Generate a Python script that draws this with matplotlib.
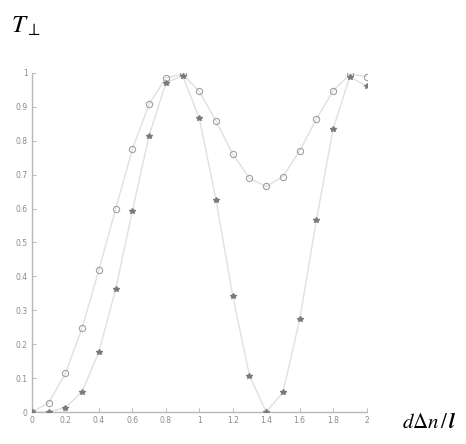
# Transmission T_perp versus d*dn/lambda, two sets of points with their curves
import numpy as np
import matplotlib.pyplot as plt

# Data
x = [0.0, 0.1, 0.2, 0.3, 0.4, 0.5, 0.6, 0.7, 0.8, 0.9, 1.0,
     1.1, 1.2, 1.3, 1.4, 1.5, 1.6, 1.7, 1.8, 1.9, 2.0]
t_open = [0.0, 0.027, 0.114, 0.249, 0.419, 0.599, 0.775, 0.908, 0.985, 0.996, 0.945,
          0.858, 0.76, 0.689, 0.665, 0.694, 0.77, 0.864, 0.947, 0.996, 0.989]
t_star = [0.0, 0.0, 0.013, 0.06, 0.178, 0.362, 0.593, 0.815, 0.97, 0.992, 0.866,
          0.625, 0.342, 0.107, 0.0, 0.058, 0.273, 0.566, 0.835, 0.989, 0.96]
xticks = [0, 0.2, 0.4, 0.6, 0.8, 1, 1.2, 1.4, 1.6, 1.8, 2]
yticks = [0, 0.1, 0.2, 0.3, 0.4, 0.5, 0.6, 0.7, 0.8, 0.9, 1]

fig = plt.figure(figsize=(4.66, 4.44), dpi=100)
ax = fig.add_axes([0.0687, 0.072, 0.718, 0.764])

line_col = '#e0e0e0'
ax.plot(x, t_open, color=line_col, lw=1.0, zorder=1)
ax.plot(x, t_star, color=line_col, lw=1.0, zorder=1)
ax.plot(x, t_open, 'o', ms=4.5, mfc='none', mec='#a0a0a0', mew=0.8, zorder=2)
ax.plot(x, t_star, '*', ms=4, color='#7a7a7a', zorder=3)

ax.set_xlim(0, 2)
ax.set_ylim(0, 1)
ax.set_xticks(xticks)
ax.set_xticklabels(['0', '0.2', '0.4', '0.6', '0.8', '1', '1.2', '1.4', '1.6', '1.8', '2'])
ax.set_yticks(yticks)
ax.set_yticklabels(['0', '0.1', '0.2', '0.3', '0.4', '0.5', '0.6', '0.7', '0.8', '0.9', '1'])
ax.tick_params(direction='in', length=3, width=0.6, colors='#b0b0b0',
               labelcolor='#8a8a8a', labelsize=5.5, pad=3)

for s in ['top', 'right']:
    ax.spines[s].set_visible(False)
for s in ['left', 'bottom']:
    ax.spines[s].set_color('#b8b8b8')
    ax.spines[s].set_linewidth(1.0)

# axis titles placed like the reference
fig.text(0.024, 0.942, r'$T_{\perp}$', fontsize=18,
         math_fontfamily='stix', ha='left', va='center')
fig.text(0.862, 0.05, r'$d\Delta n\,/\,\boldsymbol{l}$', fontsize=15,
         math_fontfamily='stix', ha='left', va='center')

fig.savefig('out.png', dpi=100)
